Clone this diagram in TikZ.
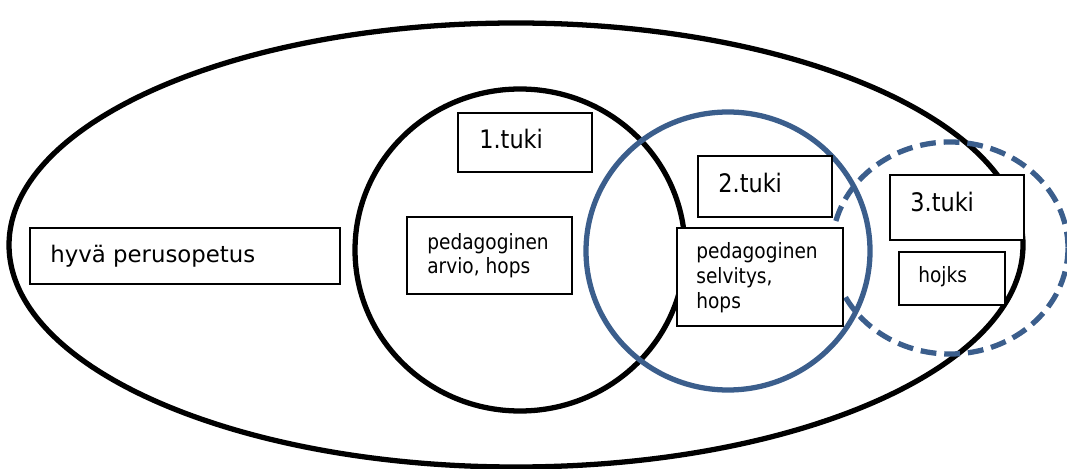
\documentclass[tikz,border=0pt]{standalone}
\usepackage{fontspec}
\setmainfont{DejaVu Sans}
\newfontfamily\narrowfont{DejaVu Sans}[FakeStretch=0.88]
\definecolor{tukiblue}{RGB}{59,94,140}
\tikzset{
  ring/.style={line width=3pt},
  bluering/.style={ring, draw=tukiblue},
  box/.style={draw, fill=white, line width=1.2pt, inner sep=0pt, anchor=north west},
  bigtext/.style={font=\fontsize{13}{16}\selectfont, inner sep=0pt, anchor=base west},
  tukitext/.style={font=\narrowfont\fontsize{14.5}{17}\selectfont, inner sep=0pt, anchor=base west},
  smalltext/.style={font=\narrowfont\fontsize{12}{14.2}\selectfont, inner sep=0pt, anchor=base west, align=left},
}
\begin{document}
\begin{tikzpicture}[x=0.02cm, y=-0.02cm]
    \useasboundingbox (0,0) rectangle (1067,469);
    % the four rings
    \draw[ring] (516,245) ellipse [x radius=507, y radius=222];
    \draw[ring] (520,250) ellipse [x radius=165, y radius=161];
    \draw[bluering] (728,251) ellipse [x radius=142, y radius=139];
    \draw[bluering, dash pattern=on 9pt off 4.5pt] (950,248) ellipse [x radius=118, y radius=106];
    % boxes
    \node[box, minimum width=6.2cm, minimum height=1.12cm] (perus) at (29,227) {};
    \node[box, minimum width=2.68cm, minimum height=1.18cm] (tuki1) at (457,112) {};
    \node[box, minimum width=3.3cm, minimum height=1.54cm] (arvio) at (406,216) {};
    \node[box, minimum width=2.68cm, minimum height=1.22cm] (tuki2) at (697,155) {};
    \node[box, minimum width=3.32cm, minimum height=1.96cm] (selvitys) at (676,227) {};
    \node[box, minimum width=2.68cm, minimum height=1.3cm] (tuki3) at (889,174) {};
    \node[box, minimum width=2.12cm, minimum height=1.06cm] (hojks) at (898,251) {};
    % texts (multi-line ones sit on their last line)
    \node[bigtext] (perus-text) at (50,263) {hyvä perusopetus};
    \node[tukitext] (tuki1-text) at (479,149) {1.tuki};
    \node[smalltext] (arvio-text) at (427,274) {pedagoginen\\arvio, hops};
    \node[tukitext] (tuki2-text) at (718,193) {2.tuki};
    \node[smalltext] (selvitys-text) at (696,308) {pedagoginen\\selvitys,\\hops};
    \node[tukitext] (tuki3-text) at (910,212) {3.tuki};
    \node[smalltext] (hojks-text) at (918,282) {hojks};
\end{tikzpicture}
\end{document}
